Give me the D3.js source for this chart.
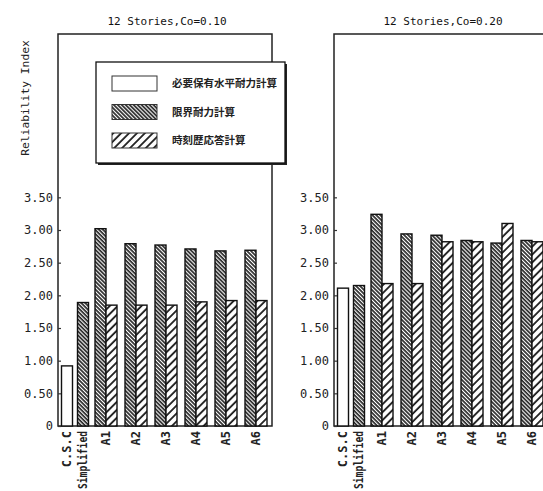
<!DOCTYPE html>
<html>
<head>
<meta charset="utf-8">
<script src="https://cdn.jsdelivr.net/npm/d3@7"></script>
<style>
  body { margin: 0; background: #fff; }
  svg { display: block; }
</style>
</head>
<body>
<div id="chart"></div>
<script>
// data
const CATEGORIES = ["C.S.C", "Simplified", "A1", "A2", "A3", "A4", "A5", "A6"];
const SERIES_NAMES = ["必要保有水平耐力計算", "限界耐力計算", "時刻歴応答計算"];
const Y_TICKS = [0, 0.5, 1.0, 1.5, 2.0, 2.5, 3.0, 3.5];
const PANEL_TITLES = ["12 Stories,Co=0.10", "12 Stories,Co=0.20"];

const co010Required = [0.92, null, null, null, null, null, null, null];
const co010Limit = [null, 1.89, 3.02, 2.79, 2.77, 2.71, 2.68, 2.69];
const co010History = [null, null, 1.85, 1.85, 1.85, 1.90, 1.92, 1.92];

const co020Required = [2.11, null, null, null, null, null, null, null];
const co020Limit = [null, 2.15, 3.24, 2.94, 2.92, 2.84, 2.80, 2.84];
const co020History = [null, null, 2.18, 2.18, 2.82, 2.82, 3.10, 2.82];

// layout
const WIDTH = 543;
const HEIGHT = 491;
const PLOT_W = 214;
const PLOT_TOP = 34;
const PLOT_BOTTOM = 426;
const PANEL_LEFT = [58, 334];
const BAR_W = 11;
const FILLS = ["#fff", "url(#dense)", "url(#diag)"];
const MONO = "'DejaVu Sans Mono', monospace";

const svg = d3.select("#chart")
  .append("svg")
  .attr("width", WIDTH)
  .attr("height", HEIGHT);

setupPatterns();
drawPanel(0, [co010Required, co010Limit, co010History]);
drawPanel(1, [co020Required, co020Limit, co020History]);
drawLegend();

function setupPatterns() {
  const defs = svg.append("defs");

  // dense back-slash hatch
  const dense = defs.append("pattern")
    .attr("id", "dense")
    .attr("patternUnits", "userSpaceOnUse")
    .attr("width", 2.8)
    .attr("height", 10)
    .attr("patternTransform", "rotate(-45)");
  dense.append("rect").attr("width", 2.8).attr("height", 10).attr("fill", "#fff");
  dense.append("line")
    .attr("x1", 1).attr("x2", 1).attr("y1", 0).attr("y2", 10)
    .attr("stroke", "#1a1a1a").attr("stroke-width", 1.6);

  // wide slash hatch
  const diag = defs.append("pattern")
    .attr("id", "diag")
    .attr("patternUnits", "userSpaceOnUse")
    .attr("width", 5.6)
    .attr("height", 10)
    .attr("patternTransform", "rotate(45)");
  diag.append("rect").attr("width", 5.6).attr("height", 10).attr("fill", "#fff");
  diag.append("line")
    .attr("x1", 1).attr("x2", 1).attr("y1", 0).attr("y2", 10)
    .attr("stroke", "#1a1a1a").attr("stroke-width", 1.8);
}

function drawPanel(index, seriesValues) {
  const left = PANEL_LEFT[index];
  const g = svg.append("g").attr("transform", `translate(${left}, 0)`);

  // each category gets room in proportion to the number of bars it holds
  const counts = CATEGORIES.map((c, i) => seriesValues.filter((s) => s[i] != null).length);
  const weights = counts.map((n) => 14 * n + 2);
  const starts = [];
  let acc = 0;
  weights.forEach((w) => { starts.push(acc); acc += w; });

  const x = d3.scaleLinear().domain([0, acc]).range([1, PLOT_W - 1]);
  const y = d3.scaleLinear().domain([0, 6]).range([PLOT_BOTTOM, PLOT_TOP]);

  const bars = [];
  CATEGORIES.forEach((cat, i) => {
    const center = x(starts[i] + weights[i] / 2);
    const present = seriesValues
      .map((s, k) => ({ k, v: s[i] }))
      .filter((d) => d.v != null);
    present.forEach((d, j) => {
      bars.push({
        series: d.k,
        value: d.v,
        x: center - (present.length * BAR_W) / 2 + j * BAR_W,
      });
    });
  });

  // frame
  g.append("rect")
    .attr("x", 0)
    .attr("y", PLOT_TOP)
    .attr("width", PLOT_W)
    .attr("height", PLOT_BOTTOM - PLOT_TOP)
    .attr("fill", "none")
    .attr("stroke", "#222")
    .attr("stroke-width", 1.5);

  // bars
  g.selectAll("rect.bar")
    .data(bars)
    .enter()
    .append("rect")
    .attr("class", "bar")
    .attr("x", (d) => d.x)
    .attr("y", (d) => y(d.value))
    .attr("width", BAR_W)
    .attr("height", (d) => y(0) - y(d.value))
    .attr("fill", (d) => FILLS[d.series])
    .attr("stroke", "#111")
    .attr("stroke-width", 1.4);

  // y axis
  const yAxis = g.append("g")
    .call(
      d3.axisLeft(y)
        .tickValues(Y_TICKS)
        .tickSize(-3)
        .tickPadding(5)
        .tickFormat((d) => (d === 0 ? "0" : d3.format(".2f")(d)))
    );
  yAxis.select(".domain").remove();
  yAxis.selectAll("line").attr("stroke", "#333").attr("stroke-width", 1.2);
  yAxis.selectAll("text")
    .attr("font-family", MONO)
    .attr("font-size", 12)
    .attr("fill", "#222");

  // x labels (the long one squeezed so it stays inside the picture)
  g.selectAll("text.xlab")
    .data(CATEGORIES)
    .enter()
    .append("text")
    .attr("class", "xlab")
    .attr("transform", (d, i) => `translate(${x(starts[i] + weights[i] / 2) + 4}, ${PLOT_BOTTOM + 5}) rotate(-90)`)
    .attr("text-anchor", "end")
    .attr("font-family", MONO)
    .attr("font-weight", "bold")
    .attr("font-size", 12)
    .attr("fill", "#222")
    .attr("textLength", (d) => (d.length > 6 ? 58 : null))
    .attr("lengthAdjust", "spacingAndGlyphs")
    .text((d) => d);

  // title
  g.append("text")
    .attr("x", PLOT_W / 2 + 2)
    .attr("y", 25)
    .attr("text-anchor", "middle")
    .attr("font-family", MONO)
    .attr("font-size", 11)
    .attr("fill", "#111")
    .text(PANEL_TITLES[index]);

  if (index === 0) {
    g.append("text")
      .attr("transform", `translate(${-29}, 98) rotate(-90)`)
      .attr("text-anchor", "middle")
      .attr("font-family", MONO)
      .attr("font-size", 11.3)
      .attr("fill", "#222")
      .text("Reliability Index");
  }
}

function drawLegend() {
  const lx = 96, ly = 62, lw = 189, lh = 101;
  const g = svg.append("g");

  // drop shadow
  g.append("rect")
    .attr("x", lx + 2).attr("y", ly + 2)
    .attr("width", lw).attr("height", lh)
    .attr("fill", "#222");
  g.append("rect")
    .attr("x", lx).attr("y", ly)
    .attr("width", lw).attr("height", lh)
    .attr("fill", "#fff")
    .attr("stroke", "#111")
    .attr("stroke-width", 1.3);

  const rows = g.selectAll("g.row")
    .data(SERIES_NAMES)
    .enter()
    .append("g")
    .attr("class", "row")
    .attr("transform", (d, i) => `translate(${lx + 16}, ${ly + 14 + i * 28.5})`);

  rows.append("rect")
    .attr("width", 45)
    .attr("height", 15)
    .attr("fill", (d, i) => FILLS[i])
    .attr("stroke", "#333")
    .attr("stroke-width", 1);

  rows.append("text")
    .attr("x", 60)
    .attr("y", 7.5)
    .attr("dy", "0.36em")
    .attr("font-family", "'Noto Sans CJK JP', sans-serif")
    .attr("font-weight", "bold")
    .attr("font-size", 10.5)
    .attr("fill", "#222")
    .text((d) => d);
}
</script>
</body>
</html>
